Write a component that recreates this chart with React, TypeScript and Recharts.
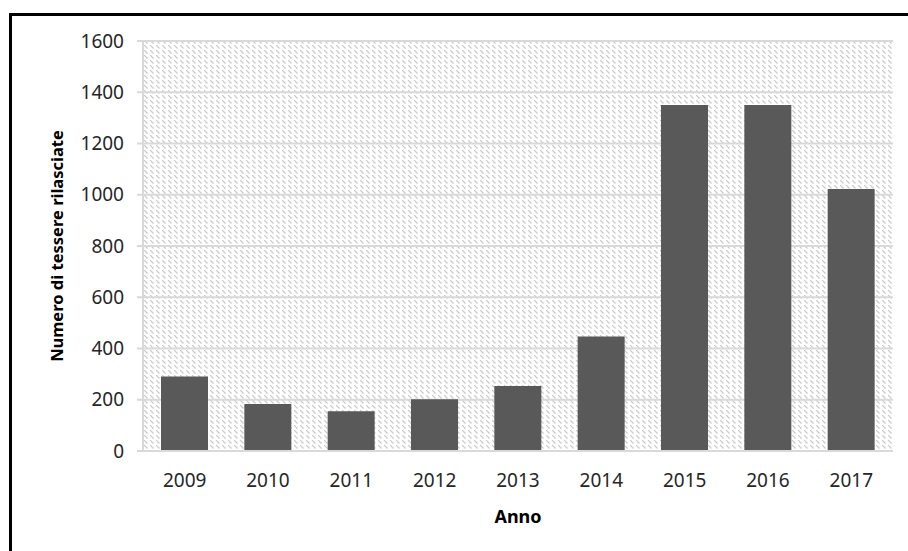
import { BarChart, Bar, XAxis, YAxis, CartesianGrid } from 'recharts';

// tessere rilasciate per anno
const anni = ['2009', '2010', '2011', '2012', '2013', '2014', '2015', '2016', '2017'];
const tessere = [291, 183, 155, 202, 254, 447, 1350, 1350, 1022];
const yTicks = [0, 200, 400, 600, 800, 1000, 1200, 1400, 1600];

const data = anni.map((anno, i) => ({ anno, tessere: tessere[i] }));

const font = '"Noto Sans", "Open Sans", sans-serif';

export default function App() {
  return (
    <div
      style={{
        position: 'absolute',
        top: 0,
        left: 0,
        width: 908,
        height: 551,
        overflow: 'hidden',
        background: '#fff',
        fontFamily: font,
      }}
    >
      <div
        style={{
          position: 'absolute',
          left: 9,
          top: 13,
          width: 1000,
          height: 1000,
          border: '3px solid #000',
        }}
      />
      <div style={{ position: 'absolute', left: 0, top: 0 }}>
        <BarChart
          width={908}
          height={551}
          data={data}
          margin={{ top: 41, right: 15, bottom: 20, left: 43 }}
        >
          <defs>
            <pattern id="hatch" patternUnits="userSpaceOnUse" width="6" height="5">
              <rect width="6" height="5" fill="#ffffff" />
              <line x1="0" y1="0" x2="3.5" y2="3.5" stroke="#c9c9c9" strokeWidth="1.2" />
            </pattern>
          </defs>
          <CartesianGrid
            vertical={false}
            stroke="#d9d9d9"
            strokeWidth={2}
            fill="url(#hatch)"
            fillOpacity={1}
          />
          <XAxis
            dataKey="anno"
            height={80}
            axisLine={{ stroke: '#d9d9d9', strokeWidth: 2 }}
            tickLine={false}
            tickMargin={17}
            tick={{ fill: '#262626', fontSize: 19, fontFamily: font }}
            label={{
              value: 'Anno',
              position: 'insideBottom',
              offset: 8,
              fill: '#000',
              fontSize: 18,
              fontWeight: 'bold',
              fontFamily: font,
            }}
          />
          <YAxis
            width={100}
            domain={[0, 1600]}
            ticks={yTicks}
            interval={0}
            axisLine={{ stroke: '#d9d9d9', strokeWidth: 2 }}
            tickLine={{ stroke: '#d9d9d9', strokeWidth: 2 }}
            tickMargin={13}
            tick={{ fill: '#262626', fontSize: 19, fontFamily: font }}
            label={{
              value: 'Numero di tessere rilasciate',
              angle: -90,
              position: 'insideLeft',
              offset: 14,
              fill: '#000',
              fontSize: 16.5,
              fontWeight: 'bold',
              fontFamily: font,
              style: { textAnchor: 'middle' },
            }}
          />
          <Bar dataKey="tessere" fill="#595959" barSize={47} isAnimationActive={false} />
        </BarChart>
      </div>
    </div>
  );
}
